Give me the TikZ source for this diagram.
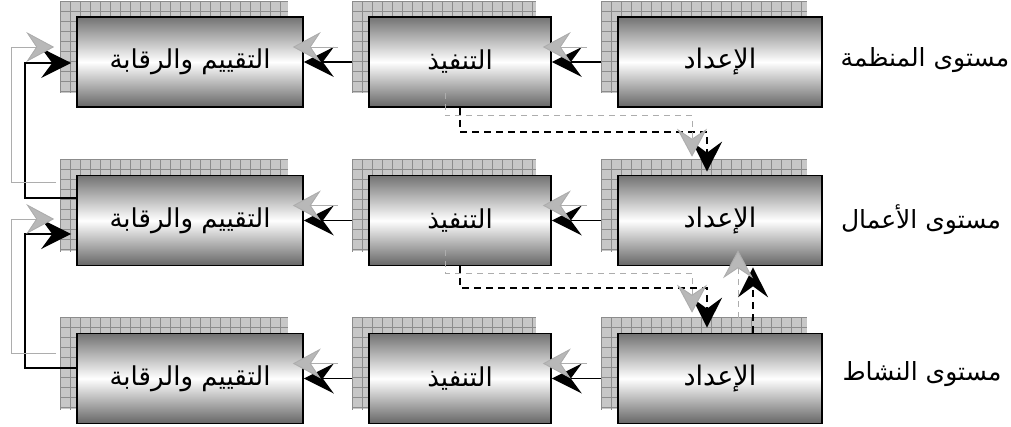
\documentclass[tikz,border=0pt]{standalone}
\usepackage{fontspec}
\newfontfamily\arabicfont[Script=Arabic]{DejaVu Sans}
\TeXXeTstate=1
\usetikzlibrary{arrows.meta,backgrounds}

\newcommand\gridshadow[1]{%
  \begin{scope}
    \path[clip] ([shift={(-16,-15)}]#1.north west) rectangle ([shift={(-16,-15)}]#1.south east);
    \fill[black!22] ([shift={(-16,-15)}]#1.north west) rectangle ([shift={(-16,-15)}]#1.south east);
    \foreach \k in {0,...,24} {
      \draw[black!45,line width=0.5pt] ([shift={(-16+\k*10,-15)}]#1.north west) -- ++(0,100);
    }
    \foreach \k in {0,...,9} {
      \draw[black!45,line width=0.5pt] ([shift={(-16,-15+\k*10)}]#1.north west) -- ++(240,0);
    }
  \end{scope}}

\begin{document}
\begin{tikzpicture}[x=1pt,y=-1pt,
  box/.style={draw=black, line width=1.6pt, top color=black!55, bottom color=black!60,
    middle color=white, minimum height=90pt, inner sep=0pt,
    font=\arabicfont\fontsize{26}{30}\selectfont},
  evalbox/.style={box, minimum width=226pt},
  execbox/.style={box, minimum width=182pt},
  prepbox/.style={box, minimum width=204pt, font=\arabicfont\fontsize{27}{30}\selectfont},
  levellabel/.style={font=\arabicfont\fontsize{25}{30}\selectfont, inner sep=0pt},
  bigtip/.style={-{Stealth[length=30pt,width=30pt,inset=11pt]}},
  barrow/.style={bigtip, draw=black, line width=1.6pt},
  garrow/.style={-{Stealth[length=28pt,width=30pt,inset=10pt,fill=black!28]}, draw=black!32, line width=0.9pt},
  bdash/.style={barrow, dash pattern=on 7pt off 5pt},
  gdash/.style={garrow, dash pattern=on 6pt off 5pt},
]
\useasboundingbox (0,0) rectangle (1011,427);

% boxes
\node[evalbox] (e1) at (190,62)    {\beginR التقييم والرقابة\endR};
\node[execbox] (x1) at (460,62)    {\beginR التنفيذ\endR};
\node[prepbox] (p1) at (720,62)    {\beginR الإعداد\endR};
\node[evalbox] (e2) at (190,220.5) {\beginR التقييم والرقابة\endR};
\node[execbox] (x2) at (460,220.5) {\beginR التنفيذ\endR};
\node[prepbox] (p2) at (720,220.5) {\beginR الإعداد\endR};
\node[evalbox] (e3) at (190,378.5) {\beginR التقييم والرقابة\endR};
\node[execbox] (x3) at (460,378.5) {\beginR التنفيذ\endR};
\node[prepbox] (p3) at (720,378.5) {\beginR الإعداد\endR};

% level labels
\node[levellabel] (l1) at (925,60)  {\beginR مستوى المنظمة\endR};
\node[levellabel] (l2) at (921,220) {\beginR مستوى الأعمال\endR};
\node[levellabel] (l3) at (922,374) {\beginR مستوى النشاط\endR};

% grid shadows and black links behind the boxes
\begin{scope}[on background layer]
  \draw[barrow] (p1.west) -- (x1.east);
  \draw[barrow] (p2.west) -- (x2.east);
  \draw[barrow] (p3.west) -- (x3.east);
  \draw[barrow] (x1.west) -- (e1.east);
  \draw[barrow] (x2.west) -- (e2.east);
  \draw[barrow] (x3.west) -- (e3.east);
  \foreach \n in {e1,x1,p1,e2,x2,p2,e3,x3,p3} { \gridshadow{\n} }
\end{scope}

% feedback links on the left
\draw[barrow] ([shift={(0,-22.5)}]e2.west) -| ([shift={(-51,1)}]e1.west) -- ([shift={(-5,1)}]e1.west);
\draw[barrow] ([shift={(0,-10.5)}]e3.west) -| ([shift={(-51,13.5)}]e2.west) -- ([shift={(-5,13.5)}]e2.west);
\draw[garrow] ([shift={(-20,-38.5)}]e2.west) -| ([shift={(-65,-15)}]e1.west) -- ([shift={(-22,-15)}]e1.west);
\draw[garrow] ([shift={(-20,-25.5)}]e3.west) -| ([shift={(-65,-1.5)}]e2.west) -- ([shift={(-22,-1.5)}]e2.west);

% gray shadows of the horizontal arrows
\foreach \r in {1,2,3} {
  \draw[garrow] ([shift={(-30,-15)}]p\r.west) -- ([shift={(-9,-15)}]x\r.east);
  \draw[garrow] ([shift={(-30,-15)}]x\r.west) -- ([shift={(-11,-15)}]e\r.east);
}

% dashed links between levels
\draw[bdash] (x1.south) -- ++(0,24) -| ([shift={(-13,-3)}]p2.north);
\draw[bdash] (x2.south) -- ++(0,22) -| ([shift={(-13,-5)}]p3.north);
\draw[bdash] ([shift={(33,0)}]p3.north) -- ([shift={(33,1)}]p2.south);
\draw[gdash] ([shift={(-15,-15)}]x1.south) -- ++(0,23) -| ([shift={(-28,-18)}]p2.north);
\draw[gdash] ([shift={(-15,-16)}]x2.south) -- ++(0,23) -| ([shift={(-28,-20)}]p3.north);
\draw[gdash] ([shift={(18,-15)}]p3.north) -- ([shift={(18,-16)}]p2.south);
\end{tikzpicture}
\end{document}
